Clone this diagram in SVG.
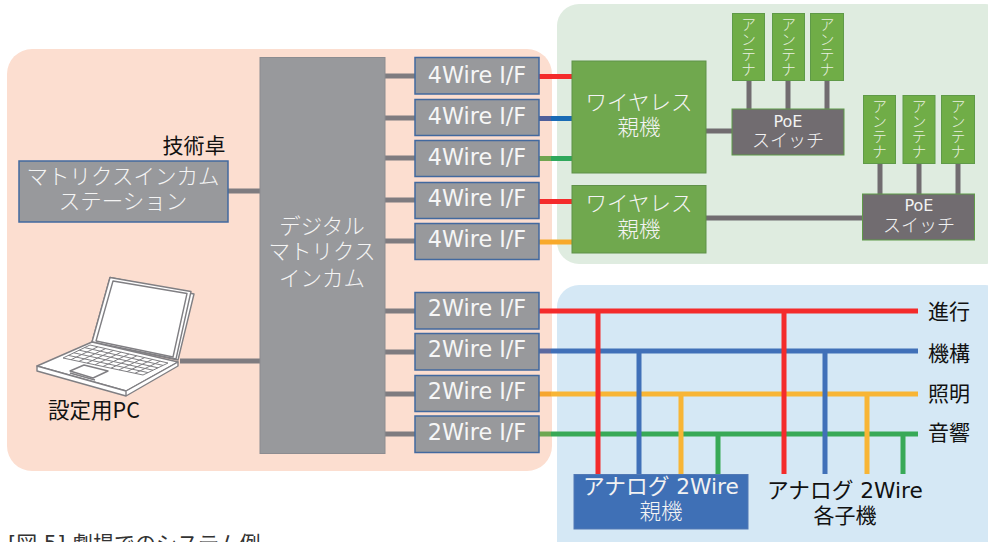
<svg xmlns="http://www.w3.org/2000/svg" width="988" height="542" viewBox="0 0 988 542">
<style>
text{font-family:"DejaVu Sans","Noto Sans CJK JP",sans-serif;text-anchor:middle}
.w{fill:#f4f4f4;font-size:21.500px;font-family:"Noto Sans CJK JP",sans-serif;font-weight:300}
.if{fill:#f6f6f6;font-size:22.300px;font-family:"DejaVu Sans",sans-serif}
.b{fill:#111;font-size:21px;font-family:"Noto Sans CJK JP",sans-serif;font-weight:400}
.ant{fill:#70ad47;stroke:#5f9a48;stroke-width:1}
.ifb{fill:#98999c;stroke:#42699f;stroke-width:1.5}
.poe{fill:#716c70;stroke:#5f9a48;stroke-width:1}
.at{fill:#e8f0e0;font-size:15px;font-family:"Noto Sans CJK JP",sans-serif;font-weight:300;writing-mode:vertical-rl}
.sw{fill:#f2f2f2;font-size:18px;font-family:"Noto Sans CJK JP",sans-serif;font-weight:300}
.g{stroke:#7f7c80;stroke-width:5;fill:none}
.dg{stroke:#716c70;stroke-width:5;fill:none}
.c{stroke-width:5;fill:none}
.lap{stroke:#807f83;fill:#fff;stroke-width:1.4;stroke-linejoin:round}
.key{stroke:#807f83;stroke-width:1;fill:none}
</style>
<rect x="7" y="49" width="545" height="422" rx="25" fill="#fcded0"/>
<rect x="557" y="4" width="450" height="260" rx="22" fill="#dfece0"/>
<rect x="557" y="285" width="450" height="280" rx="22" fill="#d5e8f5"/>
<g id="connectors">
<path class="g" d="M228 191H260M180 361H260M385 76H415M385 118H415M385 158H415M385 200H415M385 241H415M385 311H415M385 352H415M385 394H415M385 434H415"/>
<path class="dg" d="M706 131H732M706 218H862M749 80V109M788 80V109M827 80V109M880 163V194M919 163V194M958 163V194"/>
<path class="c" stroke="#f42b2b" d="M539 76.500H572M539 201.500H572"/>
<path class="c" stroke="#4f5f9a" d="M539 118.500H551"/><path class="c" stroke="#1a6bb5" d="M551 118.500H572"/>
<path class="c" stroke="#70a550" d="M539 158.500H551"/><path class="c" stroke="#2fa85c" d="M551 158.500H572"/>
<path class="c" stroke="#f8a92b" d="M539 242H572"/>
<path class="c" stroke="#38a957" d="M551 434H918M718 434V474M903 434V474"/>
<path class="c" stroke="#6fa750" d="M539 434H551"/>
<path class="c" stroke="#f8b535" d="M551 394H918M681 394V474M867 394V474"/>
<path class="c" stroke="#f6a52e" d="M539 394H551"/>
<path class="c" stroke="#4070b8" d="M551 351H918M639 351V474M825 351V474"/>
<path class="c" stroke="#5d6aa0" d="M539 351H551"/>
<path class="c" stroke="#f42b2b" d="M539 311H918M598 311V474M784 311V474"/>
</g>
<g id="station"><rect x="19" y="161" width="209" height="61" fill="#98999c" stroke="#42699f" stroke-width="1.500"/><text class="w" x="123" y="184">マトリクスインカム</text><text class="w" x="123" y="209">ステーション</text></g>
<text class="b" x="194" y="153">技術卓</text>
<g id="matrix"><rect x="260" y="57.500" width="125" height="396" fill="#98999c" stroke="#8c8c90"/><text class="w" x="322" y="234">デジタル</text><text class="w" x="322" y="259">マトリクス</text><text class="w" x="322" y="286">インカム</text></g>
<g id="if4-1"><rect class="ifb" x="415" y="57.500" width="124" height="36.500"/><text class="if" x="477" y="83">4Wire I/F</text></g>
<g id="if4-2"><rect class="ifb" x="415" y="99.500" width="124" height="36"/><text class="if" x="477" y="124">4Wire I/F</text></g>
<g id="if4-3"><rect class="ifb" x="415" y="140.500" width="124" height="36"/><text class="if" x="477" y="165">4Wire I/F</text></g>
<g id="if4-4"><rect class="ifb" x="415" y="182.500" width="124" height="36"/><text class="if" x="477" y="206">4Wire I/F</text></g>
<g id="if4-5"><rect class="ifb" x="415" y="223.500" width="124" height="36"/><text class="if" x="477" y="247">4Wire I/F</text></g>
<g id="if2-1"><rect class="ifb" x="415" y="292.500" width="124" height="36.500"/><text class="if" x="477" y="316">2Wire I/F</text></g>
<g id="if2-2"><rect class="ifb" x="415" y="333.500" width="124" height="36.500"/><text class="if" x="477" y="357">2Wire I/F</text></g>
<g id="if2-3"><rect class="ifb" x="415" y="375.500" width="124" height="36"/><text class="if" x="477" y="399">2Wire I/F</text></g>
<g id="if2-4"><rect class="ifb" x="415" y="416" width="124" height="36.500"/><text class="if" x="477" y="440">2Wire I/F</text></g>
<g id="wireless1"><rect x="572" y="61" width="134" height="112" fill="#70a84e" stroke="#5f9149" stroke-width="1"/><text class="w" x="639" y="110">ワイヤレス</text><text class="w" x="639" y="135">親機</text></g>
<g id="wireless2"><rect x="572" y="185.500" width="134" height="67.500" fill="#70a84e" stroke="#5f9149" stroke-width="1"/><text class="w" x="639" y="211">ワイヤレス</text><text class="w" x="639" y="237">親機</text></g>
<g id="ant1"><rect class="ant" x="732.500" y="13.500" width="32" height="67"/><text class="at" x="748.500" y="47">アンテナ</text></g>
<g id="ant2"><rect class="ant" x="772.500" y="13.500" width="32" height="67"/><text class="at" x="788.500" y="47">アンテナ</text></g>
<g id="ant3"><rect class="ant" x="810.500" y="13.500" width="33" height="67"/><text class="at" x="827" y="47">アンテナ</text></g>
<g id="ant4"><rect class="ant" x="863.500" y="95.500" width="32" height="68"/><text class="at" x="879.500" y="129">アンテナ</text></g>
<g id="ant5"><rect class="ant" x="903" y="95.500" width="32" height="68"/><text class="at" x="919" y="129">アンテナ</text></g>
<g id="ant6"><rect class="ant" x="941.500" y="95.500" width="33" height="68"/><text class="at" x="958" y="129">アンテナ</text></g>
<g id="poe1"><rect class="poe" x="732" y="109" width="112" height="46"/><text x="788" y="127" fill="#f2f2f2" font-size="16">PoE</text><text class="sw" x="788" y="147">スイッチ</text></g>
<g id="poe2"><rect class="poe" x="862.500" y="194" width="112" height="46"/><text x="919" y="211" fill="#f2f2f2" font-size="16">PoE</text><text class="sw" x="919" y="232">スイッチ</text></g>
<g id="analog-master"><rect x="574" y="474.500" width="174" height="54.500" fill="#3f70b6" stroke="#5279b5"/><text x="661" y="494" style="fill:#f2f2f2;font-size:21.700px">アナログ 2Wire</text><text class="w" x="661" y="519">親機</text></g>
<g id="analog-sub"><text x="845" y="498" style="fill:#111;font-size:21.700px">アナログ 2Wire</text><text class="b" x="845" y="523">各子機</text></g>
<text class="b" x="949" y="319">進行</text>
<text class="b" x="949" y="361">機構</text>
<text class="b" x="949" y="401">照明</text>
<text class="b" x="949" y="440">音響</text>
<g id="laptop">
<path class="lap" d="M110 277.500L194 294L178 360L92 342Z"/>
<path class="lap" d="M110 277.500L191 291.500L176 359L92 342Z"/>
<path class="lap" d="M113 281L187 293.500L173 357L96 341Z"/>
<path class="lap" d="M37 366L92 342L178 362L126 391L37 366Z"/>
<path class="lap" d="M37 366V371L126 396V391ZM126 396L178 366V362L126 391Z"/>
<path class="key" d="M90 345L168 363L143 375L63 358ZM84.600 347.600L163 365.400M79.200 350.200L158 367.800M73.800 352.800L153 370.200M68.400 355.400L148 372.600M97.800 346.800L71 359.700M105.600 348.600L79 361.400M113.400 350.400L87 363.100M121.200 352.200L95 364.800M129 354L103 366.500M136.800 355.800L111 368.200M144.600 357.600L119 369.900M152.400 359.400L127 371.600M160.200 361.200L135 373.300"/>
<path class="lap" d="M70 371L84 365L108 371L93 378Z"/>
<path d="M70 373L95 380" stroke="#807f83" stroke-width="1.500" fill="none"/>
</g>
<text x="94" y="418" style="fill:#111;font-size:21.500px;font-family:'Noto Sans CJK JP',sans-serif">設定用PC</text>
<text x="8" y="551" style="text-anchor:start;fill:#333;font-size:21px;font-family:'DejaVu Sans','Noto Sans CJK JP',sans-serif">[図 5] 劇場でのシステム例</text>
</svg>
